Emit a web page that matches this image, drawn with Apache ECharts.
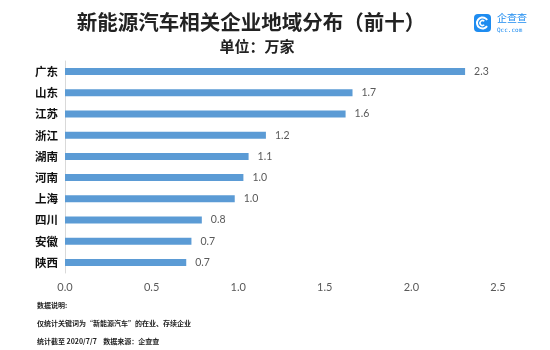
<!DOCTYPE html>
<html>
<head>
<meta charset="utf-8">
<script src="https://cdn.jsdelivr.net/npm/echarts@6/dist/echarts.min.js"></script>
<style>
html,body{margin:0;padding:0;background:#fff;}
#chart{width:550px;height:350px;}
</style>
</head>
<body>
<div id="chart"></div>
<script>
const titleText = '新能源汽车相关企业地域分布（前十）';
const subtitleText = '单位：万家';
const categories = ['广东','山东','江苏','浙江','湖南','河南','上海','四川','安徽','陕西'];
const values = [2.31, 1.66, 1.62, 1.16, 1.06, 1.03, 0.98, 0.79, 0.73, 0.70];
const xTicks = [0, 0.5, 1.0, 1.5, 2.0, 2.5];
const notes = ['数据说明:', '仅统计关键词为“新能源汽车”的在业、存续企业', '统计截至 2020/7/7    数据来源：企查查'];

const cjk = '"Noto Sans CJK SC", sans-serif';
const num = 'Lato, "Noto Sans", sans-serif';

const chart = echarts.init(document.getElementById('chart'), null, {renderer:'canvas'});
chart.setOption({
  backgroundColor: '#ffffff',
  animation: false,
  grid: {left: 65, right: 52, top: 61, bottom: 77, containLabel: false, outerBoundsMode: 'none'},
  xAxis: {
    type: 'value', min: xTicks[0], max: xTicks[xTicks.length-1], interval: 0.5,
    axisLine: {show: false}, axisTick: {show: false}, splitLine: {show: false},
    axisLabel: {color: '#595959', fontSize: 11, fontFamily: num, margin: 9,
      formatter: v => v.toFixed(1)}
  },
  yAxis: {
    type: 'category', data: categories, inverse: true,
    axisLine: {show: true, lineStyle: {color: '#d9d9d9', width: 1}},
    axisTick: {show: false},
    axisLabel: {color: '#111', fontSize: 11.5, fontWeight: 'bold', fontFamily: cjk, margin: 7}
  },
  series: [{
    type: 'bar', data: values, barWidth: 7,
    itemStyle: {color: '#5b9bd5'},
    label: {show: true, position: 'right', distance: 9, color: '#595959', fontSize: 10.5,
      fontFamily: num, formatter: p => p.value.toFixed(1)}
  }],
  graphic: [
    {type: 'text', x: 251, y: 22, style: {text: titleText, fill: '#222', font: 'bold 20.5px ' + cjk, textAlign: 'center', textVerticalAlign: 'middle'}},
    {type: 'text', x: 257, y: 46, style: {text: subtitleText, fill: '#222', font: 'bold 15px ' + cjk, textAlign: 'center', textVerticalAlign: 'middle'}},
    {type: 'rect', shape: {x: 474, y: 14, width: 17, height: 18, r: 4}, style: {fill: '#1e8cf0'}},
    {type: 'arc', shape: {cx: 482.5, cy: 23, r: 5.5, startAngle: 0.6, endAngle: 5.7}, style: {stroke: '#fff', lineWidth: 2, fill: null}},
    {type: 'arc', shape: {cx: 482.5, cy: 23, r: 2.5, startAngle: 0.8, endAngle: 5.5}, style: {stroke: '#fff', lineWidth: 1.5, fill: null}},
    {type: 'text', x: 497, y: 18, style: {text: '企查查', fill: '#1e8cf0', font: '10px ' + cjk, textVerticalAlign: 'middle'}},
    {type: 'text', x: 497, y: 30, style: {text: 'Qcc.com', fill: '#1e8cf0', font: '6px "DejaVu Sans Mono", monospace', textVerticalAlign: 'middle'}},
    {type: 'text', x: 37, y: 305, style: {text: notes[0], fill: '#222', font: 'bold 7px ' + cjk, textVerticalAlign: 'middle'}},
    {type: 'text', x: 37, y: 323, style: {text: notes[1], fill: '#222', font: 'bold 7px ' + cjk, textVerticalAlign: 'middle'}},
    {type: 'text', x: 37, y: 341, style: {text: notes[2], fill: '#222', font: 'bold 7px ' + cjk, textVerticalAlign: 'middle'}}
  ]
});
</script>
</body>
</html>
